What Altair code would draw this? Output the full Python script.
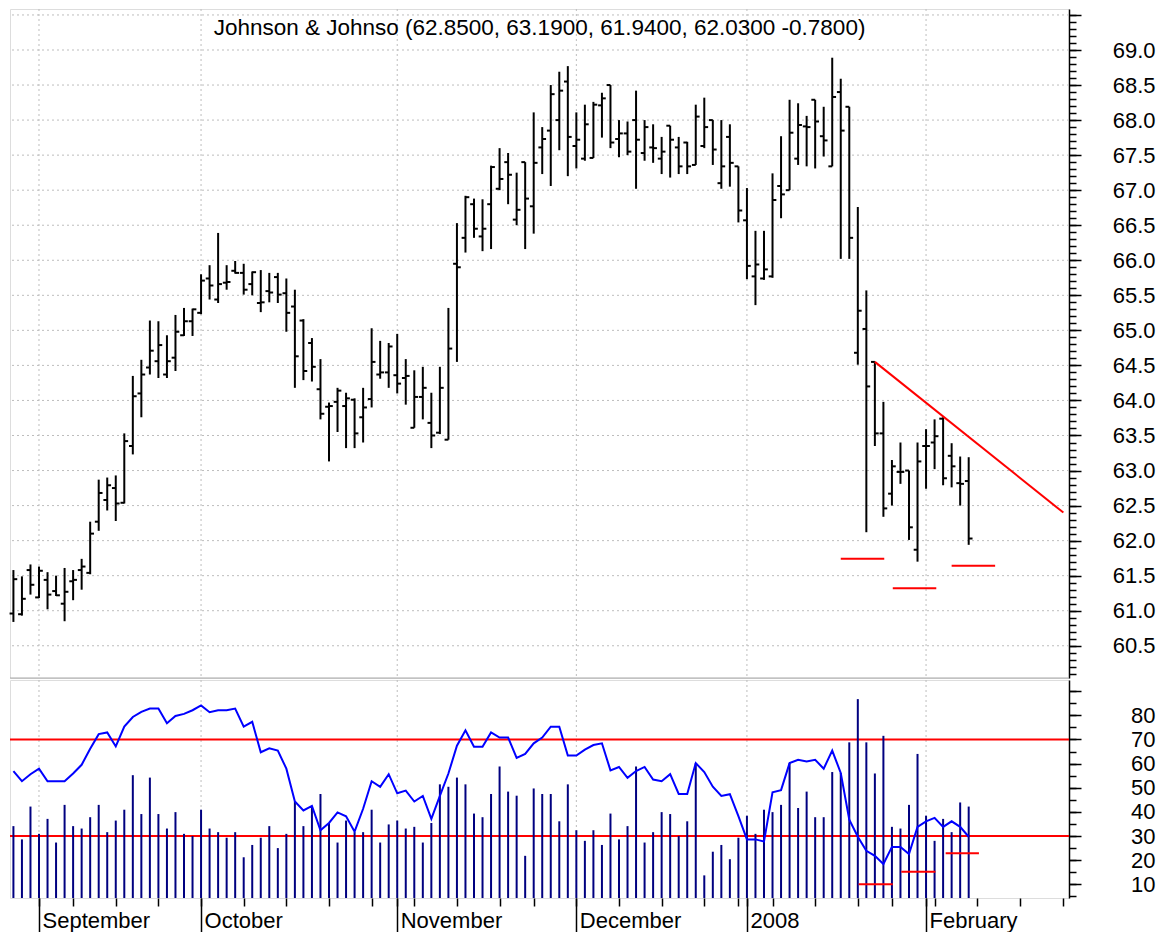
import altair as alt
import pandas as pd

# ---------------- data ----------------
idx = list(range(113))
open_ = [60.96, 60.95, 61.58, 61.19, 61.44, 61.28, 61.10, 61.42, 61.58, 61.54,
         62.27, 62.58, 62.75, 62.54, 63.35, 64.10, 64.47, 64.56, 64.37, 64.61,
         64.93, 65.13, 65.25, 65.74, 65.44, 65.68, 65.85, 65.82, 65.66, 65.39,
         65.56, 65.76, 65.53, 65.34, 65.14, 64.82, 64.16, 63.91, 63.98, 63.92,
         64.01, 63.76, 64.02, 64.37, 64.40, 64.36, 64.32, 63.61, 64.05, 63.68,
         63.54, 63.44, 65.95, 66.32, 66.80, 66.34, 66.80, 67.02, 67.40, 66.58,
         67.40, 66.77, 67.61, 67.85, 68.00, 68.55, 67.63, 67.45, 67.46, 68.21,
         68.50, 67.73, 67.81, 68.00, 67.53, 67.61, 67.45, 67.92, 67.61, 67.68,
         67.36, 67.63, 68.00, 67.10, 67.76, 67.34, 66.57, 65.77, 65.74, 65.77,
         67.06, 67.00, 67.45, 67.91, 68.29, 67.77, 67.34, 68.40, 68.19, 64.68,
         65.02, 64.55, 63.53, 62.67, 62.98, 63.00, 61.87, 63.35, 63.40, 63.74,
         63.21, 62.82, 62.85]
high = [61.58, 61.49, 61.66, 61.63, 61.55, 61.50, 61.61, 61.58, 61.74, 62.27,
        62.87, 62.90, 62.93, 63.53, 64.35, 64.58, 65.14, 65.13, 64.93, 65.22,
        65.32, 65.31, 65.80, 65.93, 66.39, 65.93, 65.99, 65.95, 65.84, 65.86,
        65.82, 65.82, 65.74, 65.58, 65.16, 64.89, 64.59, 63.97, 64.18, 64.11,
        64.03, 64.18, 65.03, 64.85, 64.82, 64.95, 64.59, 64.43, 64.48, 64.11,
        64.48, 65.32, 66.53, 66.92, 66.88, 66.87, 67.35, 67.60, 67.53, 67.25,
        67.40, 68.11, 67.90, 68.50, 68.69, 68.77, 68.11, 68.22, 68.26, 68.39,
        68.50, 68.00, 67.98, 68.42, 68.00, 67.94, 67.76, 67.92, 67.76, 67.69,
        68.22, 68.32, 68.00, 68.00, 67.94, 67.34, 67.03, 66.42, 66.42, 67.24,
        67.77, 68.29, 68.24, 68.06, 68.29, 68.19, 68.89, 68.59, 68.19, 66.76,
        65.57, 64.55, 63.98, 63.15, 63.40, 63.00, 63.40, 63.59, 63.73, 63.76,
        63.39, 63.20, 63.19]
low = [60.84, 60.93, 61.23, 61.18, 61.02, 61.21, 60.85, 61.15, 61.30, 61.52,
       62.14, 62.43, 62.28, 62.53, 63.23, 63.76, 64.37, 64.32, 64.32, 64.42,
       64.92, 64.92, 65.23, 65.44, 65.39, 65.58, 65.81, 65.51, 65.50, 65.26,
       65.40, 65.39, 64.98, 64.18, 64.29, 64.27, 63.73, 63.13, 63.55, 63.32,
       63.32, 63.40, 63.90, 64.31, 64.18, 64.10, 63.94, 63.61, 63.73, 63.32,
       63.52, 63.44, 64.55, 66.11, 66.32, 66.13, 66.16, 67.00, 66.80, 66.50,
       66.16, 66.38, 67.23, 67.06, 67.57, 67.20, 67.31, 67.42, 67.46, 67.75,
       67.60, 67.47, 67.50, 67.02, 67.42, 67.39, 67.23, 67.18, 67.23, 67.23,
       67.36, 67.60, 67.36, 67.02, 67.05, 66.54, 65.73, 65.36, 65.72, 65.75,
       66.60, 67.00, 67.36, 67.34, 67.31, 67.48, 67.34, 66.02, 66.02, 64.51,
       62.12, 63.35, 62.34, 62.50, 62.81, 62.01, 61.70, 62.74, 63.02, 62.79,
       62.76, 62.50, 61.94]
close = [61.45, 61.17, 61.37, 61.57, 61.23, 61.22, 61.27, 61.44, 61.63, 62.10,
         62.68, 62.79, 62.53, 63.42, 64.06, 64.37, 64.71, 64.79, 64.56, 64.98,
         65.13, 65.30, 65.71, 65.64, 65.66, 65.69, 65.82, 65.58, 65.83, 65.40,
         65.54, 65.51, 65.25, 64.63, 64.42, 64.48, 63.81, 63.92, 64.14, 64.03,
         63.53, 63.90, 64.55, 64.40, 64.77, 64.24, 64.35, 64.05, 64.18, 63.50,
         64.18, 64.74, 65.90, 66.90, 66.45, 66.45, 67.33, 67.16, 67.22, 66.72,
         66.88, 67.39, 67.73, 68.37, 68.42, 67.76, 67.72, 67.94, 68.22, 68.31,
         67.68, 67.81, 67.55, 67.72, 67.90, 67.60, 67.55, 67.72, 67.34, 67.34,
         68.05, 67.90, 67.58, 67.34, 67.39, 66.71, 65.92, 65.94, 65.87, 66.86,
         66.94, 67.82, 67.93, 67.90, 67.98, 67.71, 68.33, 67.85, 66.32, 65.28,
         64.20, 63.53, 62.46, 63.06, 62.98, 62.19, 63.13, 63.35, 63.49, 62.89,
         63.06, 62.81, 62.03]
rsi = [56.9, 52.7, 55.6, 57.9, 52.7, 52.7, 52.7, 55.9, 59.5, 66.1,
       72.2, 72.9, 67.1, 75.3, 79.3, 81.4, 82.8, 82.8, 76.7, 79.7,
       80.6, 82.1, 84.1, 81.3, 82.1, 82.1, 82.8, 75.3, 77.3, 64.7,
       66.3, 65.4, 57.9, 44.3, 40.6, 42.5, 32.4, 35.4, 39.8, 38.2,
       31.8, 41.3, 52.7, 50.4, 55.6, 47.7, 48.8, 44.3, 46.6, 37.1,
       46.6, 55.9, 67.4, 73.8, 67.0, 67.0, 72.9, 70.8, 70.8, 62.4,
       64.0, 68.4, 70.8, 75.3, 75.3, 63.3, 63.3, 65.8, 67.7, 68.4,
       57.2, 58.6, 54.1, 56.9, 58.6, 53.4, 52.7, 55.6, 47.4, 47.4,
       60.2, 56.5, 50.4, 46.6, 47.3, 38.2, 28.6, 28.6, 27.7, 48.1,
       49.0, 60.2, 61.6, 60.9, 61.6, 57.9, 65.4, 56.1, 36.8, 29.7,
       23.9, 21.8, 18.4, 25.5, 25.5, 22.5, 33.8, 36.1, 37.5, 33.8,
       36.1, 33.8, 29.7]
volume = [34.1, 28.6, 42.2, 30.9, 37.1, 27.3, 42.9, 34.1, 33.1, 37.8,
          42.9, 31.6, 36.4, 40.9, 55.2, 39.1, 54.2, 39.1, 33.1, 39.9,
          30.9, 30.0, 40.9, 33.1, 31.6, 29.3, 31.6, 21.2, 26.3, 29.3,
          34.1, 25.0, 30.9, 44.3, 34.1, 42.2, 47.4, 35.4, 27.3, 36.4,
          31.6, 31.6, 40.9, 27.3, 34.8, 36.4, 33.1, 33.8, 27.3, 35.4,
          51.4, 50.4, 54.2, 51.4, 39.3, 37.8, 47.4, 58.8, 48.4, 46.7,
          21.8, 49.7, 47.4, 47.4, 36.1, 51.4, 32.4, 28.0, 32.4, 26.3,
          39.3, 28.6, 34.1, 58.8, 27.3, 31.6, 39.9, 39.1, 30.0, 36.1,
          60.2, 13.7, 23.5, 26.3, 20.4, 29.3, 38.4, 30.9, 40.9, 39.9,
          42.9, 60.2, 41.6, 48.4, 37.8, 37.8, 56.5, 56.1, 68.8, 86.7,
          68.8, 55.9, 71.5, 33.8, 33.1, 42.9, 64.0, 38.4, 28.0, 37.1,
          31.6, 43.9, 42.2]

month_idx = [3, 22, 45, 66, 86, 107]
month_names = ["September", "October", "November", "December", "2008", "February"]
week_idx = [7, 12, 17, 22, 27, 32, 37, 42, 47, 52, 57, 61, 66, 71, 76, 81, 85,
            89, 94, 99, 103, 108, 113, 118, 123]

price_major = [60.5, 61.0, 61.5, 62.0, 62.5, 63.0, 63.5, 64.0, 64.5, 65.0,
               65.5, 66.0, 66.5, 67.0, 67.5, 68.0, 68.5, 69.0, 69.5]
price_minor = [round(60.1 + 0.1 * k, 1) for k in range(95)]
rsi_major = [10, 20, 30, 40, 50, 60, 70, 80, 90]
rsi_minor = [5, 10, 15, 20, 25, 30, 35, 40, 45, 50, 55, 60, 65, 70, 75, 80, 85, 90]

trend_x = [101.0, 123.1]
trend_y = [64.55, 62.40]
sup_x1 = [97.0, 103.1, 110.0]
sup_x2 = [102.1, 108.2, 115.1]
sup_y = [61.74, 61.32, 61.64]
rseg_x1 = [99.1, 104.1, 109.3]
rseg_x2 = [103.1, 108.1, 113.2]
rseg_y = [10.0, 15.2, 22.9]
rsi_bands = [70, 30]

TITLE = "Johnson & Johnso (62.8500, 63.1900, 61.9400, 62.0300 -0.7800)"

# ---------------- layout ----------------
W, H1, H2 = 1059, 669, 218
FONT = "Liberation Sans"
XDOM = [-0.4, 123.76]
PDOM = [60.04, 69.585]
RDOM = [4.33, 94.62]
GRID = "#bdbdbd"

xs = alt.Scale(domain=XDOM, nice=False, zero=False)
ps = alt.Scale(domain=PDOM, nice=False, zero=False)
rs = alt.Scale(domain=RDOM, nice=False, zero=False)

df = pd.DataFrame({"idx": idx, "open": open_, "high": high, "low": low,
                   "close": close, "rsi": rsi, "vol": volume})
df["ox"] = df["idx"] - 0.45
df["cx"] = df["idx"] + 0.45

months = pd.DataFrame({"m": month_idx, "name": month_names})

major_price_axis = alt.Axis(orient="right", values=price_major, tickSize=12, tickWidth=1.5,
                            tickColor="black", domain=True, domainColor="black", domainWidth=1.5,
                            labelExpr="datum.value <= 69.01 ? format(datum.value, '.1f') : ''",
                            labelFontSize={"condition": {"test": "datum.value > 69.01", "value": 0},
                                           "value": 22},
                            labelAlign="right", labelPadding=74, labelFont=FONT,
                            labelColor="black", labelOverlap=False, grid=False, title=None)
minor_price_axis = alt.Axis(orient="right", values=price_minor, tickSize=7, tickWidth=1.5,
                            tickColor="black", domain=False, labels=False, grid=False, title=None)

hgrid = alt.Chart(pd.DataFrame({"p": price_major})).mark_rule(
    color=GRID, strokeDash=[2, 3], strokeWidth=1).encode(
    y=alt.Y("p:Q", scale=ps, axis=major_price_axis))
vgrid_top = alt.Chart(months).mark_rule(color=GRID, strokeDash=[2, 3], strokeWidth=1).encode(
    x=alt.X("m:Q", scale=xs, axis=None))
hl = alt.Chart(df).mark_rule(color="black", strokeWidth=2).encode(
    x=alt.X("idx:Q", scale=xs, axis=None),
    y=alt.Y("low:Q", scale=ps, axis=minor_price_axis), y2="high:Q")
otick = alt.Chart(df).mark_rule(color="black", strokeWidth=2).encode(
    x=alt.X("ox:Q", scale=xs, axis=None), x2="idx:Q", y=alt.Y("open:Q", scale=ps, axis=None))
ctick = alt.Chart(df).mark_rule(color="black", strokeWidth=2).encode(
    x=alt.X("idx:Q", scale=xs, axis=None), x2="cx:Q", y=alt.Y("close:Q", scale=ps, axis=None))
trend = alt.Chart(pd.DataFrame({"x": trend_x, "y": trend_y})).mark_line(
    color="#ff0000", strokeWidth=2).encode(
    x=alt.X("x:Q", scale=xs, axis=None), y=alt.Y("y:Q", scale=ps, axis=None))
supports = alt.Chart(pd.DataFrame({"x1": sup_x1, "x2": sup_x2, "y": sup_y})).mark_rule(
    color="#ff0000", strokeWidth=2).encode(
    x=alt.X("x1:Q", scale=xs, axis=None), x2="x2:Q", y=alt.Y("y:Q", scale=ps, axis=None))
title = alt.Chart(pd.DataFrame({"t": [TITLE]})).mark_text(
    font=FONT, fontSize=22.5, color="black", align="center", baseline="middle").encode(
    text="t:N", x=alt.value(W / 2), y=alt.value(19))
sep = alt.Chart(pd.DataFrame({"s": [0]})).mark_rule(color="#a8a8a8", strokeWidth=1).encode(
    y=alt.value(H1))

top = alt.layer(hgrid, vgrid_top, hl, otick, ctick, trend, supports, title, sep).resolve_axis(
    y="independent").properties(width=W, height=H1)

# ---------------- bottom panel ----------------
label_expr = " : ".join(
    f"datum.value == {m} ? '{n}'" for m, n in zip(month_idx, month_names)) + " : ''"

x_week_axis = alt.Axis(orient="bottom", values=sorted(set(week_idx + month_idx)), tickSize=8,
                       tickWidth=1.5, tickColor="black", domain=False, grid=False,
                       labelExpr=label_expr, labelAlign="left", labelOffset=3,
                       labelBaseline="alphabetic", labelPadding=21, labelFont=FONT,
                       labelFontSize=22, labelColor="black", labelOverlap=False,
                       labelBound=False, labelFlush=False, title=None)
x_month_axis = alt.Axis(orient="bottom", values=month_idx, tickSize=37, tickWidth=1.5,
                        tickColor="black", domain=False, labels=False, grid=False, title=None)

major_rsi_axis = alt.Axis(orient="right", values=rsi_major, tickSize=12, tickWidth=1.5,
                          tickColor="black", domain=True, domainColor="black", domainWidth=1.5,
                          labelExpr="datum.value <= 80 ? format(datum.value, 'd') : ''",
                          labelFontSize={"condition": {"test": "datum.value > 80", "value": 0},
                                         "value": 22},
                          labelAlign="right", labelPadding=74, labelFont=FONT,
                          labelColor="black", labelOverlap=False, grid=False, title=None)
minor_rsi_axis = alt.Axis(orient="right", values=rsi_minor, tickSize=7, tickWidth=1.5,
                          tickColor="black", domain=False, labels=False, grid=False, title=None)

vgrid_bot = alt.Chart(months).mark_rule(color=GRID, strokeDash=[2, 3], strokeWidth=1).encode(
    x=alt.X("m:Q", scale=xs, axis=x_month_axis))
bands = alt.Chart(pd.DataFrame({"b": rsi_bands})).mark_rule(color="#ff0000", strokeWidth=2).encode(
    y=alt.Y("b:Q", scale=rs, axis=major_rsi_axis))
vol = alt.Chart(df).mark_rule(color="#000080", strokeWidth=2).encode(
    x=alt.X("idx:Q", scale=xs, axis=x_week_axis),
    y=alt.Y("vol:Q", scale=rs, axis=minor_rsi_axis), y2=alt.value(H2))
rsi_line = alt.Chart(df).mark_line(color="#0000ff", strokeWidth=2).encode(
    x=alt.X("idx:Q", scale=xs, axis=None), y=alt.Y("rsi:Q", scale=rs, axis=None))
rsegs = alt.Chart(pd.DataFrame({"x1": rseg_x1, "x2": rseg_x2, "y": rseg_y})).mark_rule(
    color="#ff0000", strokeWidth=2).encode(
    x=alt.X("x1:Q", scale=xs, axis=None), x2="x2:Q", y=alt.Y("y:Q", scale=rs, axis=None))

bottom = alt.layer(vgrid_bot, bands, vol, rsi_line, rsegs).resolve_axis(
    x="independent", y="independent").properties(width=W, height=H2)

chart = alt.vconcat(top, bottom, spacing=0).properties(
    padding={"left": 0, "top": 0, "right": 0, "bottom": 0}
).configure_view(stroke=None).configure(background="white")

chart.save("out.html", embed_options={"renderer": "svg", "actions": False})
